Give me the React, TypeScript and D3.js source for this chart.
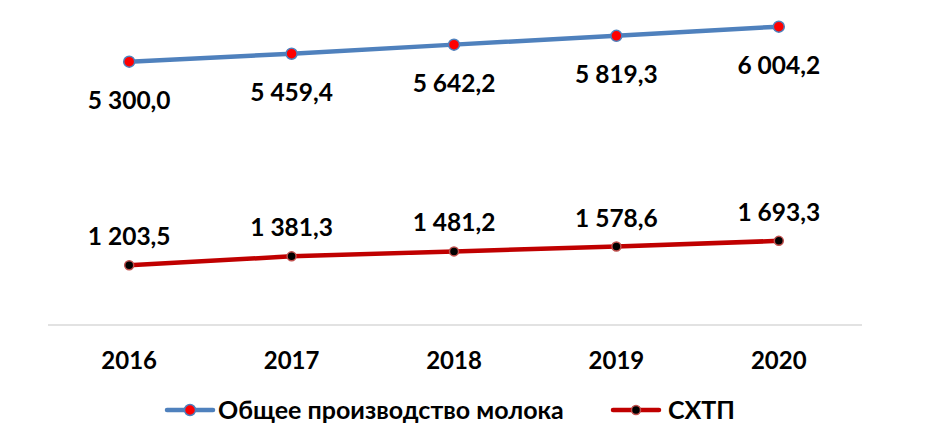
import React from "react";
import * as d3 from "d3";

const years = ["2016", "2017", "2018", "2019", "2020"];
const totalMilk = [5300.0, 5459.4, 5642.2, 5819.3, 6004.2];
const agri = [1203.5, 1381.3, 1481.2, 1578.6, 1693.3];
const seriesNames = ["Общее производство молока", "СХТП"];

const W = 925, H = 440;
const fmt = (v: number) => {
  const s = v.toFixed(1).replace(".", ",");
  const [i, d] = s.split(",");
  return i.replace(/\B(?=(\d{3})+(?!\d))/g, " ") + "," + d;
};

export default function App() {
  const x = d3.scaleBand<string>().domain(years).range([48, 860]);
  const y = d3.scaleLinear().domain([0, 6500]).range([325, 2]);
  const cx = (yr: string) => (x(yr) as number) + x.bandwidth() / 2;
  const line = d3.line<number>().x((_, i) => cx(years[i])).y((v) => y(v));
  const font = "Lato, 'Open Sans', sans-serif";
  const fs = 24.5;
  return (
    <svg width={W} height={H} style={{ position: "absolute", left: 0, top: 0, background: "#fff" }}>
      <line x1={48} x2={862} y1={y(0)} y2={y(0)} stroke="#d9d9d9" strokeWidth={1.5} />
      {years.map((yr) => (
        <text key={yr} x={cx(yr)} y={369} textAnchor="middle" fontFamily={font} fontWeight="bold" fontSize={24} fill="#000">{yr}</text>
      ))}
      <path d={line(totalMilk) || ""} fill="none" stroke="#4f81bd" strokeWidth={4.5} strokeLinecap="round" />
      <path d={line(agri) || ""} fill="none" stroke="#c00000" strokeWidth={4.5} strokeLinecap="round" />
      {totalMilk.map((v, i) => (
        <g key={"t" + i}>
          <circle cx={cx(years[i])} cy={y(v)} r={5.5} fill="#ff0000" stroke="#4f81bd" strokeWidth={1.5} />
          <text x={cx(years[i])} y={y(v) + 47} textAnchor="middle" fontFamily={font} fontWeight="bold" fontSize={fs} fill="#000">{fmt(v)}</text>
        </g>
      ))}
      {agri.map((v, i) => (
        <g key={"a" + i}>
          <circle cx={cx(years[i])} cy={y(v)} r={4.5} fill="#000" stroke="#c0504d" strokeWidth={1.5} />
          <text x={cx(years[i])} y={y(v) - 20} textAnchor="middle" fontFamily={font} fontWeight="bold" fontSize={fs} fill="#000">{fmt(v)}</text>
        </g>
      ))}
      <g>
        <line x1={167} x2={213} y1={410} y2={410} stroke="#4f81bd" strokeWidth={4.5} strokeLinecap="round" />
        <circle cx={190} cy={410} r={5.5} fill="#ff0000" stroke="#4f81bd" strokeWidth={1.5} />
        <text x={218} y={419} fontFamily={font} fontWeight="bold" fontSize={25} fill="#000">{seriesNames[0]}</text>
        <line x1={613} x2={659} y1={410} y2={410} stroke="#c00000" strokeWidth={4.5} strokeLinecap="round" />
        <circle cx={636} cy={410} r={4.5} fill="#000" stroke="#c0504d" strokeWidth={1.5} />
        <text x={668} y={419} fontFamily={font} fontWeight="bold" fontSize={25} fill="#000">{seriesNames[1]}</text>
      </g>
    </svg>
  );
}
